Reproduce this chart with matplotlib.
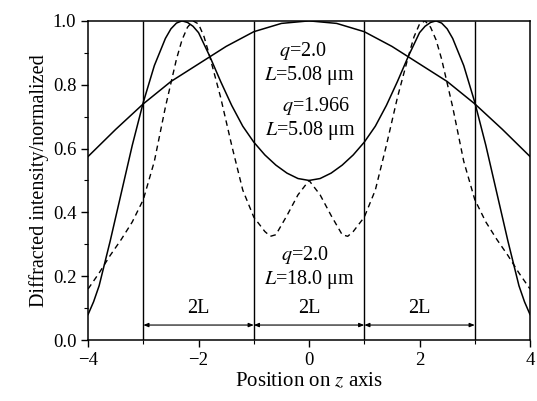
import matplotlib.pyplot as plt
import numpy as np

plt.rcParams['font.family'] = ['Liberation Serif', 'DejaVu Serif']
plt.rcParams['mathtext.fontset'] = 'stix'

# q=2.0, L=5.08 um (broad curve)
z_broad = [-4.0, -3.5, -3.0, -2.5, -2.0, -1.5, -1.0, -0.5, 0.0,
           0.5, 1.0, 1.5, 2.0, 2.5, 3.0, 3.5, 4.0]
i_broad = [0.575, 0.66, 0.74, 0.81, 0.865, 0.92, 0.966, 0.992, 1.0,
           0.992, 0.966, 0.92, 0.865, 0.81, 0.74, 0.66, 0.575]

# q=1.966, L=5.08 um (solid double peak)
z_solid = [-4.0, -3.9, -3.8, -3.6, -3.4, -3.2, -3.0, -2.8, -2.6, -2.5, -2.4, -2.3,
           -2.2, -2.1, -2.0, -1.8, -1.6, -1.4, -1.2, -1.0, -0.8, -0.6, -0.4, -0.2,
           0.0,
           0.2, 0.4, 0.6, 0.8, 1.0, 1.2, 1.4, 1.6, 1.8, 2.0, 2.1, 2.2,
           2.3, 2.4, 2.5, 2.6, 2.8, 3.0, 3.2, 3.4, 3.6, 3.8, 3.9, 4.0]
i_solid = [0.08, 0.12, 0.17, 0.31, 0.46, 0.61, 0.745, 0.86, 0.945, 0.975, 0.993, 1.0,
           0.995, 0.983, 0.963, 0.89, 0.81, 0.735, 0.67, 0.62, 0.58, 0.548, 0.523, 0.506,
           0.5,
           0.506, 0.523, 0.548, 0.58, 0.62, 0.67, 0.735, 0.81, 0.89, 0.963, 0.983, 0.995,
           1.0, 0.993, 0.975, 0.945, 0.86, 0.745, 0.61, 0.46, 0.31, 0.17, 0.12, 0.08]

# q=2.0, L=18.0 um (dashed)
z_dash = [-4.0, -3.8, -3.6, -3.4, -3.2, -3.0, -2.8, -2.6, -2.4, -2.3, -2.2, -2.1,
          -2.0, -1.9, -1.8, -1.6, -1.4, -1.2, -1.0, -0.8, -0.7, -0.6, -0.4, -0.2,
          0.0,
          0.2, 0.4, 0.6, 0.7, 0.8, 1.0, 1.2, 1.4, 1.6, 1.8, 1.9, 2.0,
          2.1, 2.2, 2.3, 2.4, 2.6, 2.8, 3.0, 3.2, 3.4, 3.6, 3.8, 4.0]
i_dash = [0.16, 0.21, 0.265, 0.315, 0.37, 0.44, 0.56, 0.73, 0.88, 0.94, 0.98, 1.0,
          0.99, 0.95, 0.89, 0.76, 0.61, 0.47, 0.385, 0.34, 0.325, 0.33, 0.39, 0.455,
          0.5,
          0.455, 0.39, 0.33, 0.325, 0.34, 0.385, 0.47, 0.61, 0.76, 0.89, 0.95, 0.99,
          1.0, 0.98, 0.94, 0.88, 0.73, 0.56, 0.44, 0.37, 0.315, 0.265, 0.21, 0.16]

boundaries = [-3, -1, 1, 3]

fig = plt.figure(figsize=(5.37, 4.01), dpi=100)
ax = fig.add_axes([0.164, 0.152, 0.823, 0.796])

ax.plot(z_broad, i_broad, color="black", lw=1.1)
ax.plot(z_solid, i_solid, color="black", lw=1.1)
ax.plot(z_dash, i_dash, color="black", lw=1.0, dashes=(4, 3))

ax.vlines(boundaries, 0, 1, color="black", lw=1.0)

# 2L arrows
for a, b in zip(boundaries[:-1], boundaries[1:]):
    ax.annotate("", xy=(b, 0.047), xytext=(a, 0.047),
                arrowprops=dict(arrowstyle="<|-|>,head_length=0.3,head_width=0.12",
                                color="black", lw=0.8, shrinkA=0, shrinkB=0))
    ax.text((a + b) / 2, 0.1, "2L", ha="center", va="center", fontsize=14.5)

ax.text(-0.12, 0.905, "$q$=2.0", ha="center", va="center", fontsize=14.5)
ax.text(0.0, 0.83, "$L$=5.08 μm", ha="center", va="center", fontsize=14.5)
ax.text(0.12, 0.732, "$q$=1.966", ha="center", va="center", fontsize=14.5)
ax.text(0.03, 0.655, "$L$=5.08 μm", ha="center", va="center", fontsize=14.5)
ax.text(-0.08, 0.265, "$q$=2.0", ha="center", va="center", fontsize=14.5)
ax.text(0.0, 0.19, "$L$=18.0 μm", ha="center", va="center", fontsize=14.5)

ax.set_xlim(-4, 4)
ax.set_ylim(0, 1)
ax.set_xticks([-4, -2, 0, 2, 4])
ax.set_xticks([-3, -1, 1, 3], minor=True)
ax.set_yticks(np.arange(0, 1.01, 0.2))
ax.set_yticks(np.arange(0.1, 1.0, 0.2), minor=True)
ax.set_yticklabels(["0.0", "0.2", "0.4", "0.6", "0.8", "1.0"])
ax.tick_params(which="major", direction="out", length=5, width=1.0, labelsize=13.5)
ax.tick_params(which="minor", direction="out", length=3, width=0.8)
for s in ax.spines.values():
    s.set_linewidth(1.1)

ax.set_xlabel("Position on $z$ axis", fontsize=15, labelpad=2)
ax.set_ylabel("Diffracted intensity/normalized", fontsize=14.5, labelpad=3)

fig.savefig("out.png", dpi=100)
